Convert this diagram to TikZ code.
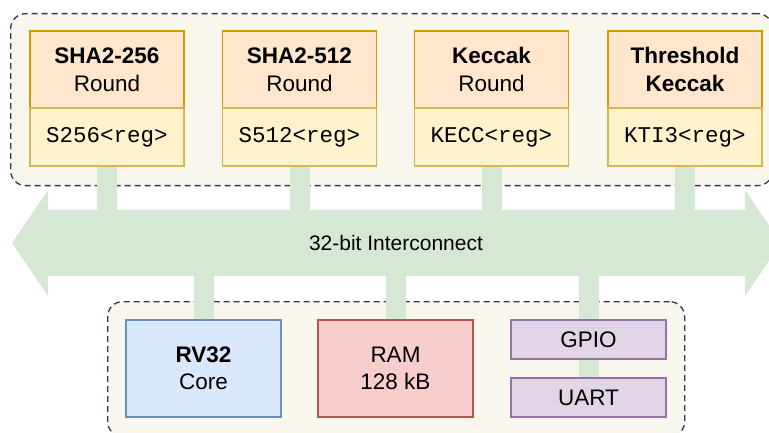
\documentclass[tikz,border=0pt]{standalone}
\usepackage{fontspec}
\setmainfont{Liberation Sans}
\setmonofont{Liberation Mono}
\definecolor{contfill}{HTML}{F9F7ED}
\definecolor{contline}{HTML}{36393D}
\definecolor{hdrfill}{HTML}{FFE6CC}
\definecolor{hdrline}{HTML}{D79B00}
\definecolor{regfill}{HTML}{FFF2CC}
\definecolor{regline}{HTML}{D6B656}
\definecolor{busgreen}{HTML}{D5E8D4}
\definecolor{cpufill}{HTML}{DAE8FC}
\definecolor{cpuline}{HTML}{6C8EBF}
\definecolor{ramfill}{HTML}{F8CECC}
\definecolor{ramline}{HTML}{B85450}
\definecolor{perfill}{HTML}{E1D5E7}
\definecolor{perline}{HTML}{9673A6}
\pgfdeclarelayer{back}
\pgfdeclarelayer{mid}
\pgfsetlayers{back,mid,main}
\tikzset{
  cont/.style={draw=contline, fill=contfill, dashed, dash pattern=on 6pt off 4pt, line width=1.3pt, rounded corners=15pt, inner sep=0pt},
  boxbase/.style={line width=1.3pt, inner sep=0pt, align=center, minimum width=154pt, font=\fontsize{22.5}{28}\selectfont},
  hdr/.style={boxbase, fill=hdrfill, draw=hdrline, minimum height=77pt},
  regbox/.style={boxbase, fill=regfill, draw=regline, minimum height=58pt, font=\ttfamily\fontsize{22.5}{28}\selectfont},
  cpu/.style={boxbase, fill=cpufill, draw=cpuline, minimum width=155pt, minimum height=97pt, font=\fontsize{22.5}{27}\selectfont},
  ram/.style={boxbase, fill=ramfill, draw=ramline, minimum width=155pt, minimum height=97pt, font=\fontsize{22.5}{27}\selectfont},
  per/.style={boxbase, fill=perfill, draw=perline, minimum width=155pt, minimum height=39pt},
  stub/.style={draw=busgreen, line width=20pt},
}
\begin{document}
\begin{tikzpicture}[x=1pt,y=-1pt]
\useasboundingbox (0,0) rectangle (769,433);
\clip (0,0) rectangle (769,433);
% top blocks
\node[hdr] (h1) at (107,69.5) {\textbf{SHA2-256}\\Round};
\node[regbox] (r1) at (107,137) {S256<reg>};
\node[hdr] (h2) at (299.5,69.5) {\textbf{SHA2-512}\\Round};
\node[regbox] (r2) at (299.5,137) {S512<reg>};
\node[hdr] (h3) at (491.5,69.5) {\textbf{Keccak}\\Round};
\node[regbox] (r3) at (491.5,137) {KECC<reg>};
\node[hdr] (h4) at (685,69.5) {\textbf{Threshold}\\\textbf{Keccak}};
\node[regbox] (r4) at (685,137) {KTI3<reg>};
% bottom blocks
\node[cpu] (cpu) at (203.5,368.5) {\textbf{RV32}\\Core};
\node[ram] (ram) at (395.5,368.5) {RAM\\128 kB};
\node[per] (gpio) at (588.5,339.5) {GPIO};
\node[per] (uart) at (588.5,397.5) {UART};
% bus
\coordinate (busT) at (396,210);
\coordinate (busB) at (396,276);
\begin{pgfonlayer}{back}
\node[cont, anchor=north west, minimum width=762pt, minimum height=172pt] (topc) at (10,13) {};
\node[cont, anchor=north west, minimum width=577pt, minimum height=135pt] (botc) at (107,301) {};
\end{pgfonlayer}
\begin{pgfonlayer}{mid}
\fill[busgreen] (12,243) -- (48,190) -- (48,210) -- (745,210) -- (745,190) -- (781,243)
  -- (745,296) -- (745,276) -- (48,276) -- (48,296) -- cycle;
\node[font=\fontsize{21}{25}\selectfont] (bus) at (396,243) {32-bit Interconnect};
\draw[stub] (r1.south) -- (r1.south |- busT);
\draw[stub] (r2.south) -- (r2.south |- busT);
\draw[stub] (r3.south) -- (r3.south |- busT);
\draw[stub] (r4.south) -- (r4.south |- busT);
\draw[stub] (cpu.north |- busB) -- (cpu.north);
\draw[stub] (ram.north |- busB) -- (ram.north);
\draw[stub] (uart.north |- busB) -- (uart.north);
\end{pgfonlayer}
\end{tikzpicture}
\end{document}
